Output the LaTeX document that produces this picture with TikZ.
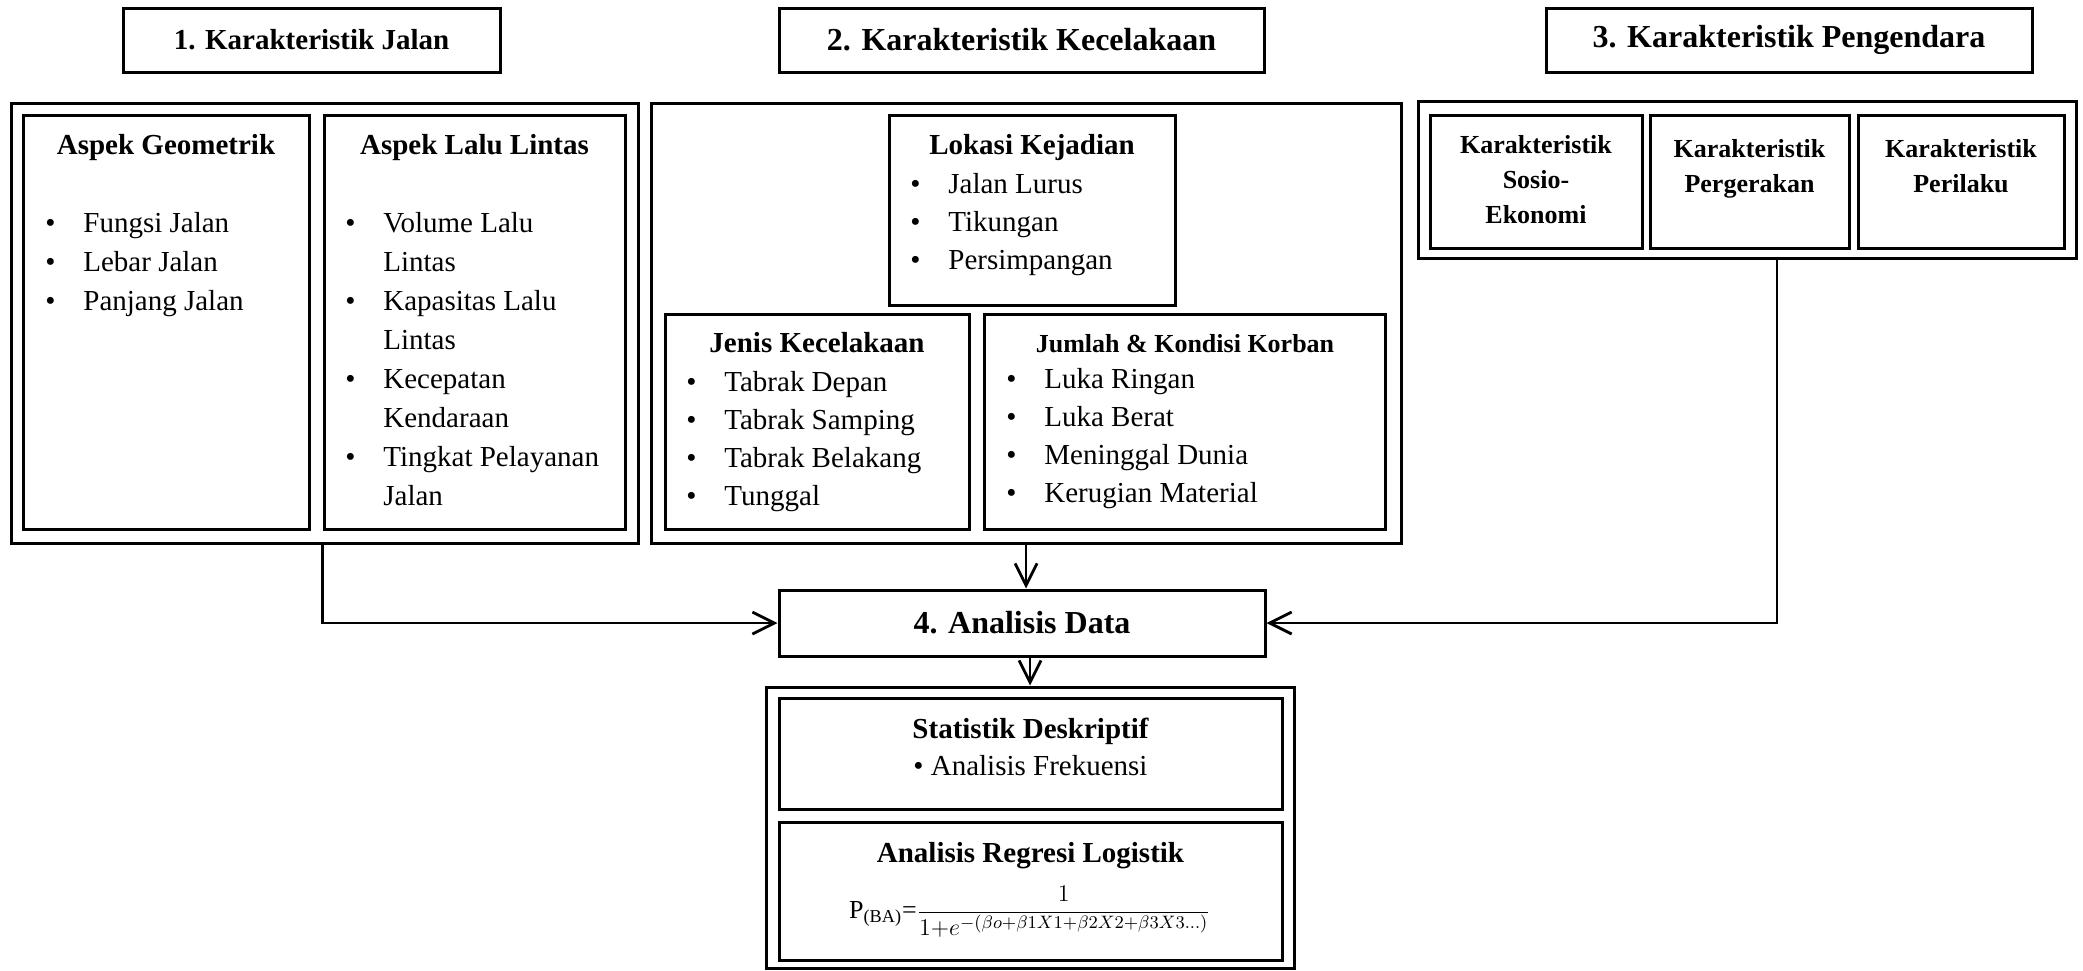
\documentclass[tikz,border=0pt]{standalone}
\usepackage{amsmath}
\usepackage{fontspec}
\setmainfont{Liberation Serif}
\usetikzlibrary{positioning,arrows.meta,calc}

% bullet list and centred lines, first baseline on top
\newcommand{\blist}[1]{\begin{tabular}[t]{@{}p{19pt}@{}l@{}}#1\end{tabular}}
\newcommand{\clines}[1]{\begin{tabular}[t]{@{}c@{}}#1\end{tabular}}

\begin{document}
\begin{tikzpicture}[
    x=0.5pt, y=-0.5pt,
    >={Straight Barb[length=11pt,width=11pt]},
    % box styles
    box/.style={draw, line width=1.5pt, inner sep=0},
    titlebox/.style={box, font=\fontsize{16}{19}\selectfont\bfseries},
    subhead/.style={anchor=base, inner sep=0, font=\fontsize{14.5}{19}\selectfont\bfseries},
    smallhead/.style={anchor=base, inner sep=0, font=\fontsize{13}{17.5}\selectfont\bfseries},
    listtxt/.style={anchor=base west, inner sep=0, font=\fontsize{14.5}{#1}\selectfont},
    listtxt/.default=19pt,
    flow/.style={->, line width=1.4pt}
  ]
  \useasboundingbox (0,0) rectangle (2083,970);

  % Titles
  \node[titlebox, minimum width=188.5pt, minimum height=32pt, font=\fontsize{14.5}{19}\selectfont\bfseries] (t1) at (311.5,40) {1. Karakteristik Jalan};
  \node[titlebox, minimum width=242.5pt, minimum height=32pt] (t2) at (1021.5,40) {2. Karakteristik Kecelakaan};
  \node[titlebox, minimum width=243pt, minimum height=32pt] (t3) at (1789,40) {3. Karakteristik Pengendara};

  % 1. Karakteristik Jalan
  \node[box, minimum width=313.5pt, minimum height=220pt] (jalan) at (324.5,323) {};
  \node[box, minimum width=143pt, minimum height=207pt] (geo) at (166,322) {};
  \node[box, minimum width=150.5pt, minimum height=207pt] (lalin) at (474.5,322) {};
  \node[subhead] at (166,154) {Aspek Geometrik};
  \node[subhead] at (474.5,154) {Aspek Lalu Lintas};
  \node[listtxt=19.5pt] at (45,232) {\blist{\textbullet & Fungsi Jalan\\ \textbullet & Lebar Jalan\\ \textbullet & Panjang Jalan}};
  \node[listtxt=19.5pt] at (345,232) {\blist{\textbullet & Volume Lalu\\ & Lintas\\ \textbullet & Kapasitas Lalu\\ & Lintas\\ \textbullet & Kecepatan\\ & Kendaraan\\ \textbullet & Tingkat Pelayanan\\ & Jalan}};

  % 2. Karakteristik Kecelakaan
  \node[box, minimum width=375pt, minimum height=220pt] (kecel) at (1026,323) {};
  \node[box, minimum width=143pt, minimum height=95pt] (lokasi) at (1032,210) {};
  \node[box, minimum width=152pt, minimum height=107.5pt] (jenis) at (817,421.5) {};
  \node[box, minimum width=200.5pt, minimum height=107.5pt] (korban) at (1184.5,421.5) {};
  \node[subhead] at (1032,154) {Lokasi Kejadian};
  \node[listtxt] at (910,193) {\blist{\textbullet & Jalan Lurus\\ \textbullet & Tikungan\\ \textbullet & Persimpangan}};
  \node[subhead] at (817,352) {Jenis Kecelakaan};
  \node[listtxt] at (686,391) {\blist{\textbullet & Tabrak Depan\\ \textbullet & Tabrak Samping\\ \textbullet & Tabrak Belakang\\ \textbullet & Tunggal}};
  \node[smallhead] at (1185,352) {Jumlah \& Kondisi Korban};
  \node[listtxt] at (1006,388) {\blist{\textbullet & Luka Ringan\\ \textbullet & Luka Berat\\ \textbullet & Meninggal Dunia\\ \textbullet & Kerugian Material}};

  % 3. Karakteristik Pengendara
  \node[box, minimum width=329pt, minimum height=78.5pt] (pengendara) at (1747,179.5) {};
  \node[box, minimum width=106pt, minimum height=66.5pt] (sosio) at (1536,181.5) {};
  \node[box, minimum width=99.5pt, minimum height=66.5pt] (gerak) at (1749.5,181.5) {};
  \node[box, minimum width=103pt, minimum height=66.5pt] (laku) at (1961,181.5) {};
  \node[smallhead] at (1536,153) {\clines{Karakteristik\\ Sosio-\\ Ekonomi}};
  \node[smallhead] at (1749.5,157) {\clines{Karakteristik\\ Pergerakan}};
  \node[smallhead] at (1961,157) {\clines{Karakteristik\\ Perilaku}};

  % 4. Analisis Data
  \node[titlebox, minimum width=243pt, minimum height=33pt] (adata) at (1022,623) {4. Analisis Data};
  \node[box, minimum width=264pt, minimum height=140.5pt] (metode) at (1030,827.5) {};
  \node[box, minimum width=251.5pt, minimum height=55.5pt] (stat) at (1030.5,753.5) {};
  \node[box, minimum width=251.5pt, minimum height=69pt] (logit) at (1030.5,891) {};
  \node[subhead] at (1030.5,738) {Statistik Deskriptif};
  \node[listtxt, anchor=base] at (1030.5,775) {\textbullet{} Analisis Frekuensi};
  \node[subhead] at (1030.5,862) {Analisis Regresi Logistik};
  \node[anchor=base, inner sep=0, font=\fontsize{13}{15}\selectfont] (rumus) at (1030,918)
    {P\textsubscript{(BA)}=$\dfrac{1}{1{+}e^{-(\beta o+\beta 1X1+\beta 2X2+\beta 3X3\ldots)}}$};

  % Connectors
  \coordinate (drv) at ($(pengendara.south)+(30,0)$);
  \draw[flow] (jalan.south -| lalin.west) |- (adata);
  \draw[flow] (kecel.south) -- (kecel.south |- adata.north);
  \draw[flow] (drv) |- (adata);
  \draw[flow] (adata.south -| metode.north) -- (metode.north);
\end{tikzpicture}
\end{document}
